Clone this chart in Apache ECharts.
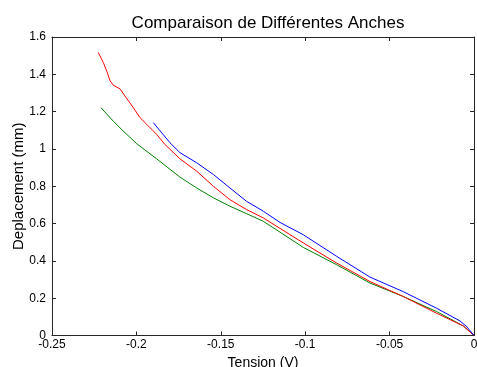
<!DOCTYPE html>
<html>
<head>
<meta charset="utf-8">
<script src="https://cdn.jsdelivr.net/npm/echarts@6/dist/echarts.min.js"></script>
<style>
  html, body { margin: 0; padding: 0; background: #fff; }
  #chart { width: 477px; height: 367px; }
</style>
</head>
<body>
<div id="chart"></div>
<script>
// tension (V) / deplacement (mm)
const redX = [-0.2226, -0.2196, -0.2176, -0.2156, -0.2137, -0.2097, -0.2068, -0.2018, -0.1979, -0.1939, -0.188, -0.1831, -0.1742, -0.1643, -0.1544, -0.1446, -0.1347, -0.1248, -0.1149, -0.1011, -0.0813, -0.0616, -0.0419, -0.0221, -0.0063, 0];
const redY = [1.517, 1.463, 1.418, 1.365, 1.342, 1.322, 1.284, 1.221, 1.168, 1.132, 1.078, 1.024, 0.947, 0.881, 0.8, 0.728, 0.675, 0.63, 0.574, 0.496, 0.388, 0.289, 0.209, 0.119, 0.051, 0];

const blueX = [-0.19, -0.1801, -0.1742, -0.1643, -0.1544, -0.1446, -0.1347, -0.1248, -0.1149, -0.1011, -0.0813, -0.0616, -0.0419, -0.0221, -0.0083, -0.0043, 0];
const blueY = [1.141, 1.033, 0.98, 0.926, 0.863, 0.791, 0.719, 0.666, 0.606, 0.54, 0.424, 0.313, 0.235, 0.146, 0.078, 0.047, 0];

const greenX = [-0.221, -0.2137, -0.2078, -0.1998, -0.188, -0.1742, -0.1643, -0.1544, -0.1446, -0.1347, -0.1248, -0.1149, -0.1011, -0.0813, -0.0616, -0.0419, -0.0221, -0.0063, 0];
const greenY = [1.221, 1.149, 1.096, 1.028, 0.947, 0.849, 0.791, 0.738, 0.693, 0.653, 0.612, 0.554, 0.472, 0.379, 0.281, 0.209, 0.128, 0.051, 0];

const titleText = "Comparaison de Différentes Anches";
const xName = "Tension (V)";
const yName = "Deplacement (mm)";

function pairs(xs, ys) {
  return xs.map((x, i) => [x, ys[i]]);
}
function fmt(v) {
  return String(parseFloat(v.toFixed(2)));
}

const axisColor = "#262626";
const font = "Liberation Sans, Arial, sans-serif";
// ticks inside the box, on all four sides (matlab style)
function tick() {
  return { show: true, inside: true, length: 4, lineStyle: { color: axisColor, width: 1 } };
}
function line() {
  return { show: true, onZero: false, lineStyle: { color: axisColor, width: 1 } };
}

const chart = echarts.init(document.getElementById("chart"));
chart.setOption({
  animation: false,
  title: {
    text: titleText,
    left: 263,
    top: 10,
    textAlign: "center",
    textStyle: { fontFamily: font, fontSize: 17, fontWeight: "normal", color: "#000" }
  },
  grid: { left: 52, right: 3, top: 37, bottom: 31.5, containLabel: false, outerBoundsMode: "none" },
  xAxis: [
    {
      type: "value", position: "bottom", min: -0.25, max: 0, interval: 0.05,
      name: xName, nameLocation: "middle", nameGap: 21, nameMoveOverlap: false,
      nameTextStyle: { fontFamily: font, fontSize: 14, color: "#000", verticalAlign: "top" },
      axisLine: line(),
      axisTick: tick(),
      axisLabel: { formatter: fmt, fontFamily: font, fontSize: 12, color: "#000", margin: 3, showMinLabel: true, showMaxLabel: true },
      splitLine: { show: false }
    },
    {
      type: "value", position: "top", min: -0.25, max: 0, interval: 0.05,
      axisLine: line(),
      axisTick: tick(),
      axisLabel: { show: false },
      splitLine: { show: false }
    }
  ],
  yAxis: [
    {
      type: "value", position: "left", min: 0, max: 1.6, interval: 0.2,
      name: yName, nameLocation: "middle", nameGap: 26, nameMoveOverlap: false,
      nameTextStyle: { fontFamily: font, fontSize: 15, color: "#000" },
      axisLine: line(),
      axisTick: tick(),
      axisLabel: { formatter: fmt, fontFamily: font, fontSize: 12, color: "#000", margin: 6 },
      splitLine: { show: false }
    },
    {
      type: "value", position: "right", min: 0, max: 1.6, interval: 0.2,
      axisLine: line(),
      axisTick: tick(),
      axisLabel: { show: false },
      splitLine: { show: false }
    }
  ],
  series: [
    {
      name: "vert", type: "line", data: pairs(greenX, greenY),
      showSymbol: false, lineStyle: { color: "#008000", width: 1 }, itemStyle: { color: "#008000" }
    },
    {
      name: "rouge", type: "line", data: pairs(redX, redY),
      showSymbol: false, lineStyle: { color: "#ff0000", width: 1 }, itemStyle: { color: "#ff0000" }
    },
    {
      name: "bleu", type: "line", data: pairs(blueX, blueY),
      showSymbol: false, lineStyle: { color: "#0000ff", width: 1 }, itemStyle: { color: "#0000ff" }
    }
  ]
});
</script>
</body>
</html>
